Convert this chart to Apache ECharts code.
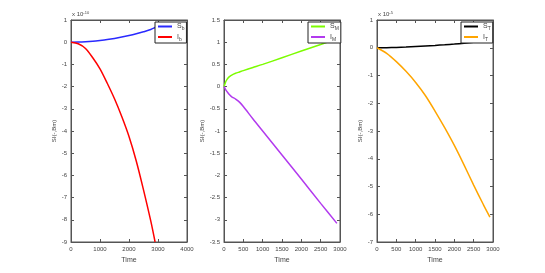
<!DOCTYPE html>
<html><head><meta charset="utf-8">
<script src="https://cdn.jsdelivr.net/npm/echarts@6/dist/echarts.min.js"></script>
<style>html,body{margin:0;padding:0;background:#fff}#c{width:545px;height:273px}</style>
</head><body><div id="c"></div>
<script>
// Panel 1 (x 10^-10)
const tB = [0, 250, 500, 750, 1000, 1250, 1500, 1750, 2000, 2250, 2500, 2750, 2900, 2950];
const Sb = [0, 0.005, 0.02, 0.045, 0.08, 0.12, 0.17, 0.23, 0.3, 0.38, 0.47, 0.57, 0.66, 0.69];
const tIb = [0, 250, 500, 750, 1000, 1250, 1500, 1750, 2000, 2250, 2500, 2750, 2900];
const Ib = [0, -0.07, -0.28, -0.7, -1.2, -1.85, -2.55, -3.35, -4.25, -5.35, -6.65, -8.05, -9.0];
// Panel 2
const tM = [0, 25, 50, 100, 150, 200, 300, 400, 500, 750, 1000, 1500, 2000, 2500, 2920];
const SM = [0, 0.06, 0.12, 0.19, 0.23, 0.26, 0.3, 0.33, 0.36, 0.43, 0.5, 0.65, 0.8, 0.95, 1.08];
const IM = [0, -0.04, -0.08, -0.14, -0.19, -0.23, -0.28, -0.35, -0.45, -0.73, -1.0, -1.54, -2.08, -2.63, -3.08];
// Panel 3 (x 10^-5)
const tT = [0, 250, 500, 750, 1000, 1250, 1500, 1750, 2000, 2250, 2500, 2750, 2920];
const ST = [0, 0.004, 0.013, 0.026, 0.043, 0.062, 0.083, 0.107, 0.133, 0.163, 0.195, 0.23, 0.255];
const IT = [0, -0.2, -0.5, -0.85, -1.25, -1.72, -2.28, -2.88, -3.52, -4.22, -4.95, -5.65, -6.1];

const xTicks = [[0, 4000, 1000], [0, 3000, 500], [0, 3000, 500]];
const yTicks = [[-9, 1, 1], [-3.5, 1.5, 0.5], [-7, 1, 1]];
const exps = ['-10', null, '-5'];
const legendNames = [['S|b', 'I|b'], ['S|M', 'I|M'], ['S|T', 'I|T']];
const colors = [['#2a2aff', '#ff0000'], ['#7cfc00', '#b23aee'], ['#000000', '#ffa500']];

const zip = (t, v) => t.map((x, i) => [x, v[i]]);
const seriesData = [
  [zip(tB, Sb), zip(tIb, Ib)],
  [zip(tM, SM), zip(tM, IM)],
  [zip(tT, ST), zip(tT, IT)]
];

const lefts = [71, 224, 377];
const W = 116, TOP = 20, H = 222;
const axisCol = '#555';
const font = 'Liberation Sans';
const grids = [], xAxes = [], yAxes = [], series = [], legends = [], graphics = [];
const fmt = v => String(v);

for (let p = 0; p < 3; p++) {
  grids.push({left: lefts[p], top: TOP, width: W, height: H, show: true, borderColor: axisCol, borderWidth: 1, backgroundColor: '#fff'});
  const [xmin, xmax, xi] = xTicks[p];
  const [ymin, ymax, yi] = yTicks[p];
  const lineStyle = {color: axisCol, width: 1};
  xAxes.push({gridIndex: p, type: 'value', min: xmin, max: xmax, interval: xi, position: 'bottom',
    axisLine: {show: true, onZero: false, lineStyle}, axisTick: {show: true, inside: true, length: 3, lineStyle},
    splitLine: {show: false},
    axisLabel: {fontSize: 6, color: '#444', margin: 4, fontFamily: font, formatter: fmt},
    name: 'Time', nameLocation: 'middle', nameGap: 12, nameTextStyle: {fontSize: 7, color: '#444', fontFamily: font}});
  xAxes.push({gridIndex: p, type: 'value', min: xmin, max: xmax, interval: xi, position: 'top',
    axisLine: {show: true, onZero: false, lineStyle}, axisTick: {show: true, inside: true, length: 3, lineStyle},
    splitLine: {show: false}, axisLabel: {show: false}});
  yAxes.push({gridIndex: p, type: 'value', min: ymin, max: ymax, interval: yi, position: 'left',
    axisLine: {show: true, onZero: false, lineStyle}, axisTick: {show: true, inside: true, length: 3, lineStyle},
    splitLine: {show: false},
    axisLabel: {fontSize: 6, color: '#444', margin: 4, fontFamily: font, formatter: fmt},
    name: 'SI(-,Bm)', nameLocation: 'middle', nameGap: 13, nameTextStyle: {fontSize: 6, color: '#444', fontFamily: font}});
  yAxes.push({gridIndex: p, type: 'value', min: ymin, max: ymax, interval: yi, position: 'right',
    axisLine: {show: true, onZero: false, lineStyle}, axisTick: {show: true, inside: true, length: 3, lineStyle},
    splitLine: {show: false}, axisLabel: {show: false}});
  for (let s = 0; s < 2; s++) {
    series.push({type: 'line', name: legendNames[p][s], xAxisIndex: 2 * p, yAxisIndex: 2 * p,
      data: seriesData[p][s], showSymbol: false, smooth: 0.3, clip: true,
      lineStyle: {color: colors[p][s], width: 1.5}, itemStyle: {color: colors[p][s]}, z: 3});
  }
  legends.push({data: legendNames[p], orient: 'vertical', left: lefts[p] + W - 32, top: 22,
    backgroundColor: '#fff', borderColor: '#222', borderWidth: 1, padding: [1, 2, 1, 3],
    itemWidth: 14, itemHeight: 2, itemGap: 2, icon: 'rect', selectedMode: false, z: 10,
    formatter: n => { const [a, b] = n.split('|'); return '{m|' + a + '}{s|' + b + '}'; },
    textStyle: {color: '#444', fontFamily: font, rich: {m: {fontSize: 7, color: '#444', fontFamily: font}, s: {fontSize: 5, color: '#444', padding: [5, 0, 0, 0], fontFamily: font}}}});
  if (exps[p]) {
    graphics.push({type: 'text', left: lefts[p] + 1, top: 11,
      style: {text: '{m|x 10}{s|' + exps[p] + '}', rich: {m: {fontSize: 6, fill: '#444', fontFamily: font, padding: [3, 0, 0, 0]}, s: {fontSize: 4, fill: '#444', fontFamily: font}}}});
  }
}

const chart = echarts.init(document.getElementById('c'), null, {renderer: 'canvas'});
chart.setOption({animation: false, backgroundColor: '#fff', grid: grids, xAxis: xAxes, yAxis: yAxes, series, legend: legends, graphic: graphics});
</script></body></html>
